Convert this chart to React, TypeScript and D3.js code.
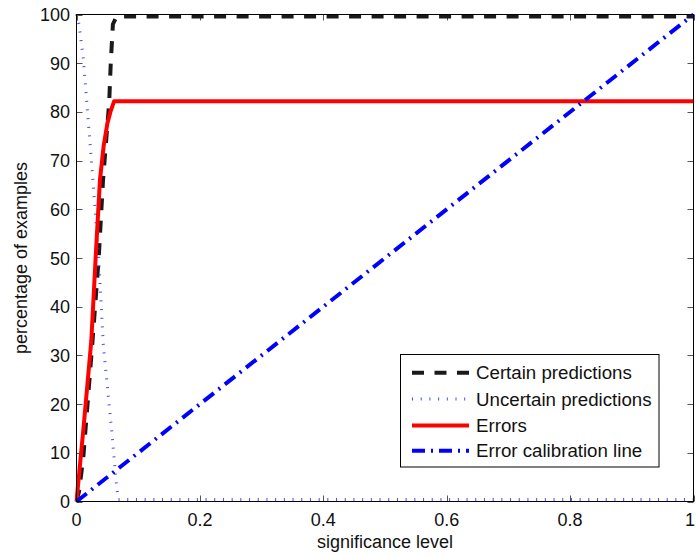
import React from "react";
import * as d3 from "d3";

// ---- data ----
const certainSig = [0, 0.004, 0.011, 0.026, 0.036, 0.043, 0.053, 0.0555, 0.059, 0.065, 1];
const certainPct = [0, 2, 9, 33, 50, 66, 82, 90, 98, 99.6, 99.6];

const uncertainSig = [0, 0.004, 0.011, 0.026, 0.036, 0.0435, 0.057, 0.065, 0.068, 1];
const uncertainPct = [100, 98, 91, 67, 50, 32, 14.6, 3, 0.4, 0.4];

const errorSig = [0, 0.012, 0.024, 0.031, 0.038, 0.044, 0.05, 0.055, 0.061, 1];
const errorPct = [0, 16, 33, 50, 66, 73, 77.6, 80, 82.2, 82.2];

const calibSig = [0, 1];
const calibPct = [0, 100];

const xTicks = [0, 0.2, 0.4, 0.6, 0.8, 1];
const xTickLabels = ["0", "0.2", "0.4", "0.6", "0.8", "1"];
const yTicks = [0, 10, 20, 30, 40, 50, 60, 70, 80, 90, 100];

const legendLabels = [
  "Certain predictions",
  "Uncertain predictions",
  "Errors",
  "Error calibration line",
];

const W = 696;
const H = 556;
const L = 76.5;
const R = 693.5;
const T = 14.5;
const B = 501.5;
const FONT = "'Liberation Sans', Arial, Helvetica, sans-serif";

export default function App() {
  const x = d3.scaleLinear().domain([0, 1]).range([L, R]);
  const y = d3.scaleLinear().domain([0, 100]).range([B, T]);

  const mk = (xs: number[], ys: number[]) =>
    d3
      .line<number>()
      .x((_, i) => x(xs[i]))
      .y((_, i) => y(ys[i]))(xs) as string;

  const styles = [
    { stroke: "#1a1a1a", width: 4, dash: "12,10.5", opacity: 1 },
    { stroke: "#1f2bff", width: 3, dash: "1,7.7", opacity: 0.85 },
    { stroke: "#ff0000", width: 4, dash: "none", opacity: 1 },
    { stroke: "#0000ff", width: 4, dash: "13,6,2,6", opacity: 1 },
  ];

  const series = [
    mk(certainSig, certainPct),
    mk(uncertainSig, uncertainPct),
    mk(errorSig, errorPct),
    mk(calibSig, calibPct),
  ];

  const tickLen = 6;
  const lgX0 = 400.5;
  const lgY0 = 354.5;
  const lgW = 258.5;
  const lgH = 112.5;
  const lgRows = [372.7, 399, 425.5, 450.7];

  return (
    <svg
      width={W}
      height={H}
      style={{ position: "absolute", left: 0, top: 0, background: "#fff" }}
      fontFamily={FONT}
    >
      <rect x={0} y={0} width={W} height={H} fill="#fff" />
      <defs>
        <clipPath id="plot">
          <rect x={L - 2} y={T - 3} width={R - L + 4} height={B - T + 5} />
        </clipPath>
      </defs>

      {/* ticks */}
      <g stroke="#555" strokeWidth={1}>
        {xTicks.map((t) => (
          <g key={"xt" + t}>
            <line x1={Math.round(x(t)) + 0.5} x2={Math.round(x(t)) + 0.5} y1={B} y2={B - tickLen} />
            <line x1={Math.round(x(t)) + 0.5} x2={Math.round(x(t)) + 0.5} y1={T} y2={T + tickLen} />
          </g>
        ))}
        {yTicks.map((t) => (
          <g key={"yt" + t}>
            <line x1={L} x2={L + tickLen} y1={Math.round(y(t)) + 0.5} y2={Math.round(y(t)) + 0.5} />
            <line x1={R} x2={R - tickLen} y1={Math.round(y(t)) + 0.5} y2={Math.round(y(t)) + 0.5} />
          </g>
        ))}
      </g>

      {/* series */}
      <g clipPath="url(#plot)" fill="none">
        {series.map((d, i) => (
          <path
            key={i}
            d={d}
            stroke={styles[i].stroke}
            strokeWidth={styles[i].width}
            strokeDasharray={styles[i].dash}
            strokeOpacity={styles[i].opacity}
            strokeLinejoin="round"
          />
        ))}
      </g>

      {/* box */}
      <rect x={L} y={T} width={R - L} height={B - T} fill="none" stroke="#000" strokeWidth={1} />

      {/* tick labels */}
      <g fontSize={18} fill="#111">
        {xTicks.map((t, i) => (
          <text
            key={"xl" + t}
            x={i === xTicks.length - 1 ? W - 1 : x(t)}
            y={526}
            textAnchor={i === xTicks.length - 1 ? "end" : "middle"}
          >
            {xTickLabels[i]}
          </text>
        ))}
        {yTicks.map((t) => (
          <text key={"yl" + t} x={70} y={y(t) + 6.5} textAnchor="end">
            {t}
          </text>
        ))}
      </g>

      {/* axis labels */}
      <text x={(L + R) / 2} y={548} fontSize={18} textAnchor="middle" fill="#111">
        significance level
      </text>
      <text
        transform={`translate(27,${(T + B) / 2}) rotate(-90)`}
        fontSize={18}
        textAnchor="middle"
        fill="#111"
      >
        percentage of examples
      </text>

      {/* legend */}
      <rect x={lgX0} y={lgY0} width={lgW} height={lgH} fill="#fff" stroke="#000" strokeWidth={1} />
      {legendLabels.map((lab, i) => (
        <g key={lab}>
          <line
            x1={412}
            x2={469}
            y1={lgRows[i]}
            y2={lgRows[i]}
            stroke={styles[i].stroke}
            strokeWidth={styles[i].width}
            strokeDasharray={styles[i].dash}
            strokeOpacity={styles[i].opacity}
          />
          <text x={476} y={lgRows[i] + 6.5} fontSize={18.7} fill="#111">
            {lab}
          </text>
        </g>
      ))}
    </svg>
  );
}
